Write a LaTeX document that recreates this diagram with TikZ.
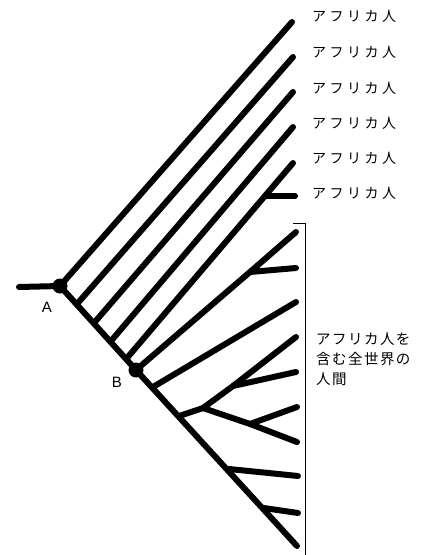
\documentclass[tikz,border=0pt]{standalone}
\usepackage{fontspec}
\setmainfont{Liberation Sans}
\newfontfamily\jpfont[LetterSpace=25]{Noto Sans CJK JP}
\newfontfamily\jpblock[LetterSpace=10]{Noto Sans CJK JP}
\begin{document}
\begin{tikzpicture}[x=1pt,y=-1pt,
  branch/.style={line width=6pt,line cap=round,line join=round,black},
  dotnode/.style={circle,fill=black,inner sep=0pt,minimum size=15pt},
  afr/.style={anchor=west,inner sep=0pt,font=\jpfont\fontsize{14}{16}\selectfont},
  lettr/.style={inner sep=0pt,font=\fontsize{15}{17}\selectfont}]
\useasboundingbox (0,0) rectangle (438,555);
% trunk points
\coordinate (root) at (19,287);
\coordinate (t2) at (77,304);
\coordinate (t3) at (94,323);
\coordinate (t4) at (111,341);
\coordinate (t5) at (127,358);
\coordinate (g2s) at (153,387);
\coordinate (g3s) at (179,416);
\coordinate (g4s) at (229,469);
\coordinate (g5s) at (264,508);
\coordinate (tend) at (297,546);
% ends of African lines
\coordinate (e1) at (292,22);
\coordinate (e2) at (293,57);
\coordinate (e3) at (293,92);
\coordinate (e4) at (293,127);
\coordinate (e5) at (293,163);
\coordinate (f6) at (265,196);
\coordinate (e6) at (295,196);
% lower group
\coordinate (f1) at (250,272);
\coordinate (h1) at (296,232);
\coordinate (h2) at (296,268);
\coordinate (h3) at (296,302);
\coordinate (f3) at (203,408);
\coordinate (f3u) at (233,386);
\coordinate (f3l) at (250,424);
\coordinate (h4) at (296,337);
\coordinate (h5) at (296,372);
\coordinate (h6) at (297,407);
\coordinate (h7) at (297,442);
\coordinate (h8) at (298,476);
\coordinate (h9) at (298,513);
% dots
\node[dotnode] (A) at (60,286) {};
\node[dotnode] (B) at (136,370) {};
% trunk
\draw[branch] (root) -- (A.center) -- (B.center) -- (tend);
% African branches
\draw[branch] (A.center) -- (e1);
\draw[branch] (t2) -- (e2);
\draw[branch] (t3) -- (e3);
\draw[branch] (t4) -- (e4);
\draw[branch] (t5) -- (e5);
\draw[branch] (f6) -- (e6);
% non-African branches
\draw[branch] (B.center) -- (f1) -- (h1);
\draw[branch] (f1) -- (h2);
\draw[branch] (g2s) -- (h3);
\draw[branch] (g3s) -- (f3) -- (f3u) -- (h4);
\draw[branch] (f3u) -- (h5);
\draw[branch] (f3) -- (f3l) -- (h7);
\draw[branch] (f3l) -- (h6);
\draw[branch] (g4s) -- (h8);
\draw[branch] (g5s) -- (h9);
% bracket
\coordinate (bt) at (293,223);
\coordinate (btr) at (305,223);
\coordinate (bb) at (305,555);
\draw[line width=1pt] (bt) -- (btr) -- (bb);
% labels
\node[lettr] (la) at (47,307) {A};
\node[lettr] (lb) at (117,382) {B};
\node[afr] (a1) at (312,16) {アフリカ人};
\node[afr] (a2) at (312,52) {アフリカ人};
\node[afr] (a3) at (312,88) {アフリカ人};
\node[afr] (a4) at (312,123) {アフリカ人};
\node[afr] (a5) at (312,158) {アフリカ人};
\node[afr] (a6) at (312,193) {アフリカ人};
\node[anchor=north west,inner sep=0pt,align=left,font=\jpblock\fontsize{14.5}{20}\selectfont] (blk) at (316,333) {アフリカ人を\\含む全世界の\\人間};
\end{tikzpicture}
\end{document}
